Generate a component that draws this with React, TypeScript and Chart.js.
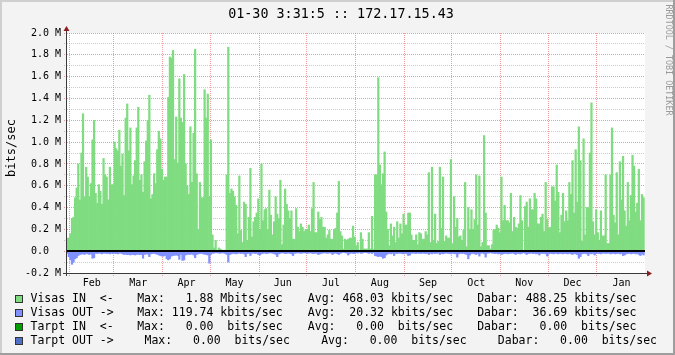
import React, { useEffect, useRef } from 'react';
import { Chart, registerables } from 'chart.js';

Chart.register(...registerables);

const W = 675;
const H = 355;
const MONO = '"DejaVu Sans Mono", monospace';

// Day index 0 = Feb 1; first daily sample is Jan 30 (day -2)
const FIRST_DAY = -2;
const X_MIN = -1.65;
const X_MAX = 364.4;

const monthLabels = ['Feb', 'Mar', 'Apr', 'May', 'Jun', 'Jul', 'Aug', 'Sep', 'Oct', 'Nov', 'Dec', 'Jan'];
const monthStarts = [0, 28, 59, 89, 120, 150, 181, 212, 242, 273, 303, 334, 365];

const yTickValues = [-0.2, -0.1, 0, 0.1, 0.2, 0.3, 0.4, 0.5, 0.6, 0.7, 0.8, 0.9, 1.0, 1.1, 1.2, 1.3, 1.4, 1.5, 1.6, 1.7, 1.8, 1.9, 2.0];

// Visas IN, Mbits/sec, one value per day (Jan 30 .. Jan 30)
const visasIn = [
  // Jan 30-31, Feb
  0.12, 0.12, 0.16, 0.30, 0.31, 0.49, 0.58, 0.80, 0.47, 0.90, 1.26, 0.50, 0.77, 0.68, 0.50, 0.62, 1.02, 1.20, 0.53, 0.44, 0.61, 0.55, 0.43, 0.85, 0.70, 0.68, 0.47, 0.77, 0.61, 0.61,
  // Mar
  1.00, 0.94, 0.92, 1.11, 0.78, 0.89, 0.51, 1.22, 1.35, 0.92, 1.13, 0.61, 0.69, 0.83, 1.13, 1.32, 0.65, 0.70, 0.54, 0.82, 1.01, 1.20, 1.43, 0.48, 0.52, 0.71, 0.62, 0.93, 1.10, 1.03, 0.75,
  // Apr
  0.65, 0.68, 0.68, 1.41, 1.78, 1.77, 1.84, 0.84, 1.23, 0.81, 1.58, 1.22, 1.18, 1.62, 0.80, 0.60, 0.52, 1.14, 0.63, 1.08, 1.85, 0.71, 0.20, 0.63, 0.49, 0.49, 1.48, 1.22, 1.44, 0.50,
  // May
  1.02, 0.15, 0.03, 0.10, 0.00, 0.03, 0.02, 0.01, 0.00, 0.01, 0.70, 1.87, 0.53, 0.57, 0.55, 0.50, 0.42, 0.16, 0.69, 0.19, 0.08, 0.45, 0.43, 0.10, 0.31, 0.76, 0.13, 0.27, 0.31, 0.35, 0.48,
  // Jun
  0.20, 0.80, 0.28, 0.38, 0.39, 0.20, 0.56, 0.33, 0.15, 0.27, 0.50, 0.34, 0.30, 0.65, 0.06, 0.24, 0.57, 0.43, 0.37, 0.30, 0.37, 0.11, 0.11, 0.39, 0.22, 0.18, 0.25, 0.22, 0.18, 0.20,
  // Jul
  0.20, 0.24, 0.18, 0.39, 0.63, 0.17, 0.17, 0.36, 0.29, 0.31, 0.22, 0.22, 0.12, 0.15, 0.19, 0.11, 0.11, 0.20, 0.21, 0.35, 0.64, 0.18, 0.14, 0.02, 0.11, 0.10, 0.11, 0.12, 0.12, 0.23, 0.13,
  // Aug
  0.05, 0.08, 0.01, 0.17, 0.11, 0.02, 0.02, 0.02, 0.17, 0.02, 0.32, 0.02, 0.70, 0.70, 1.59, 0.79, 0.61, 0.71, 0.91, 0.36, 0.20, 0.05, 0.25, 0.14, 0.22, 0.08, 0.27, 0.12, 0.25, 0.16, 0.34,
  // Sep
  0.24, 0.24, 0.35, 0.35, 0.15, 0.10, 0.10, 0.15, 0.06, 0.17, 0.16, 0.11, 0.11, 0.18, 0.15, 0.72, 0.08, 0.77, 0.10, 0.34, 0.07, 0.09, 0.77, 0.21, 0.68, 0.09, 0.14, 0.12, 0.12, 0.84,
  // Oct
  0.07, 0.50, 0.22, 0.30, 0.13, 0.14, 0.10, 0.19, 0.63, 0.04, 0.40, 0.20, 0.38, 0.20, 0.29, 0.70, 0.24, 0.69, 0.04, 0.08, 1.06, 0.35, 0.05, 0.05, 0.02, 0.06, 0.19, 0.20, 0.24, 0.21, 0.17,
  // Nov
  0.68, 0.28, 0.42, 0.28, 0.28, 0.26, 0.53, 0.18, 0.31, 0.22, 0.21, 0.25, 0.51, 0.28, 0.00, 0.41, 0.45, 0.22, 0.48, 0.38, 0.38, 0.53, 0.48, 0.25, 0.25, 0.31, 0.34, 0.18, 0.63, 0.29,
  // Dec
  0.21, 0.22, 0.59, 0.59, 0.46, 0.79, 0.54, 0.17, 0.33, 0.53, 0.27, 0.37, 0.28, 0.63, 0.52, 0.83, 0.35, 0.93, 0.45, 1.14, 0.83, 0.09, 1.03, 0.15, 0.40, 0.40, 0.90, 1.36, 0.27, 0.15, 0.38,
  // Jan
  0.17, 0.10, 0.37, 0.14, 0.14, 0.70, 0.07, 0.07, 0.70, 1.13, 0.33, 0.26, 0.72, 0.15, 0.82, 0.47, 0.87, 0.37, 0.23, 0.63, 0.28, 0.51, 0.88, 0.78, 0.36, 0.44, 0.75, 0.28, 0.52, 0.49,
];

// Visas OUT, Mbits/sec (drawn negative), one value per day
const visasOut = [
  // Jan 30-31, Feb
  -0.02, -0.05, -0.08, -0.12, -0.10, -0.07, -0.06, -0.04, -0.03, -0.028, -0.025, -0.03, -0.022, -0.025, -0.03, -0.025, -0.065, -0.06, -0.02, -0.022, -0.018, -0.02, -0.025, -0.02, -0.018, -0.022, -0.02, -0.025, -0.02, -0.022,
  // Mar
  -0.02, -0.022, -0.025, -0.02, -0.018, -0.025, -0.03, -0.028, -0.032, -0.03, -0.035, -0.03, -0.032, -0.035, -0.03, -0.028, -0.032, -0.03, -0.065, -0.03, -0.025, -0.028, -0.05, -0.025, -0.022, -0.02, -0.025, -0.028, -0.035, -0.04, -0.045,
  // Apr
  -0.045, -0.04, -0.07, -0.08, -0.07, -0.045, -0.04, -0.038, -0.035, -0.04, -0.075, -0.03, -0.085, -0.08, -0.035, -0.03, -0.028, -0.03, -0.025, -0.035, -0.06, -0.03, -0.025, -0.022, -0.02, -0.025, -0.028, -0.03, -0.035, -0.11,
  // May
  -0.03, -0.02, -0.018, -0.015, -0.015, -0.018, -0.02, -0.015, -0.018, -0.02, -0.03, -0.10, -0.03, -0.025, -0.02, -0.022, -0.025, -0.02, -0.018, -0.022, -0.02, -0.025, -0.05, -0.022, -0.02, -0.04, -0.02, -0.018, -0.022, -0.02, -0.03,
  // Jun
  -0.035, -0.025, -0.02, -0.018, -0.022, -0.02, -0.018, -0.015, -0.02, -0.022, -0.03, -0.05, -0.025, -0.02, -0.015, -0.018, -0.022, -0.02, -0.018, -0.02, -0.025, -0.04, -0.02, -0.018, -0.015, -0.018, -0.02, -0.018, -0.015, -0.018,
  // Jul
  -0.02, -0.018, -0.015, -0.02, -0.022, -0.018, -0.02, -0.03, -0.025, -0.02, -0.018, -0.015, -0.018, -0.02, -0.015, -0.018, -0.03, -0.02, -0.018, -0.022, -0.03, -0.02, -0.015, -0.012, -0.015, -0.018, -0.035, -0.02, -0.018, -0.02, -0.022,
  // Aug
  -0.015, -0.018, -0.012, -0.02, -0.018, -0.012, -0.012, -0.015, -0.02, -0.015, -0.022, -0.015, -0.04, -0.045, -0.05, -0.045, -0.05, -0.065, -0.06, -0.035, -0.025, -0.02, -0.025, -0.02, -0.04, -0.02, -0.022, -0.018, -0.02, -0.022, -0.025,
  // Sep
  -0.02, -0.025, -0.04, -0.035, -0.02, -0.018, -0.02, -0.022, -0.018, -0.02, -0.022, -0.018, -0.02, -0.022, -0.02, -0.03, -0.02, -0.025, -0.018, -0.022, -0.02, -0.018, -0.03, -0.022, -0.025, -0.02, -0.018, -0.02, -0.022, -0.025,
  // Oct
  -0.02, -0.022, -0.025, -0.055, -0.025, -0.02, -0.022, -0.02, -0.025, -0.03, -0.07, -0.035, -0.022, -0.02, -0.025, -0.03, -0.022, -0.045, -0.02, -0.018, -0.025, -0.055, -0.02, -0.018, -0.015, -0.018, -0.02, -0.022, -0.02, -0.025, -0.022,
  // Nov
  -0.03, -0.025, -0.022, -0.02, -0.025, -0.022, -0.02, -0.018, -0.022, -0.03, -0.02, -0.022, -0.025, -0.02, -0.015, -0.02, -0.03, -0.022, -0.02, -0.018, -0.022, -0.02, -0.025, -0.022, -0.035, -0.02, -0.022, -0.02, -0.025, -0.045,
  // Dec
  -0.025, -0.02, -0.022, -0.025, -0.02, -0.022, -0.025, -0.02, -0.022, -0.025, -0.02, -0.022, -0.025, -0.02, -0.025, -0.03, -0.022, -0.025, -0.03, -0.065, -0.05, -0.025, -0.022, -0.02, -0.025, -0.04, -0.022, -0.025, -0.02, -0.035, -0.022,
  // Jan
  -0.02, -0.022, -0.025, -0.02, -0.018, -0.022, -0.02, -0.018, -0.025, -0.022, -0.02, -0.025, -0.022, -0.02, -0.025, -0.022, -0.04, -0.035, -0.025, -0.022, -0.02, -0.025, -0.022, -0.02, -0.025, -0.022, -0.03, -0.04, -0.025, -0.035,
];

const titleText = '01-30 3:31:5 :: 172.17.15.43';
const unitText = 'bits/sec';
const creditText = 'RRDTOOL / TOBI OETIKER';

const legendNames = ['Visas IN  <-', 'Visas OUT ->', 'Tarpt IN  <-', 'Tarpt OUT ->'];
const legendColors = ['#80DC80', '#8090FF', '#00A000', '#5070C8'];
const legendMax = ['Max:   1.88 Mbits/sec', 'Max: 119.74 kbits/sec', 'Max:   0.00  bits/sec', 'Max:   0.00  bits/sec'];
const legendAvg = ['Avg: 468.03 kbits/sec', 'Avg:  20.32 kbits/sec', 'Avg:   0.00  bits/sec', 'Avg:   0.00  bits/sec'];
const legendNow = ['Dabar: 488.25 kbits/sec', 'Dabar:  36.69 kbits/sec', 'Dabar:   0.00  bits/sec', 'Dabar:   0.00  bits/sec'];

// legend layout (pixels)
const LEG_ROW_Y = [299, 313, 327, 341];
const LEG_MAX_X = [137.2, 137.2, 137.2, 144.5];
const LEG_AVG_X = [307.8, 307.8, 307.8, 321.2];
const LEG_NOW_X = [477.2, 477.2, 477.2, 497.8];

const RED = 'rgba(222, 80, 80, 0.55)';
const GRAY = 'rgba(140, 140, 140, 0.45)';

const rrdPlugin = {
  id: 'rrdDecor',
  beforeDraw(chart: any) {
    const { ctx, chartArea: a } = chart;
    ctx.save();
    ctx.fillStyle = '#F3F3F3';
    ctx.fillRect(0, 0, W, H);
    ctx.fillStyle = '#CFCFCF';
    ctx.fillRect(0, 0, W, 2);
    ctx.fillRect(0, 0, 2, H);
    ctx.fillStyle = '#9E9E9E';
    ctx.fillRect(0, H - 2, W, 2);
    ctx.fillRect(W - 2, 0, 2, H);
    ctx.fillStyle = '#FFFFFF';
    ctx.fillRect(a.left, a.top, a.right - a.left, a.bottom - a.top);
    ctx.restore();
  },
  afterDraw(chart: any) {
    const { ctx, chartArea: a, scales } = chart;
    ctx.save();
    // zero rule
    const y0 = Math.round(scales.y.getPixelForValue(0));
    ctx.fillStyle = '#000000';
    ctx.fillRect(a.left, y0 - 1, a.right - a.left, 2);
    // axes
    ctx.strokeStyle = '#3A3A3A';
    ctx.lineWidth = 1;
    ctx.beginPath();
    ctx.moveTo(a.left - 0.5, a.bottom + 3);
    ctx.lineTo(a.left - 0.5, a.top - 3);
    ctx.stroke();
    ctx.beginPath();
    ctx.moveTo(a.left - 4, a.bottom + 0.5);
    ctx.lineTo(a.right + 3, a.bottom + 0.5);
    ctx.stroke();
    // arrows
    ctx.fillStyle = '#8E1B1B';
    ctx.beginPath();
    ctx.moveTo(a.left - 0.5, a.top - 7);
    ctx.lineTo(a.left - 3.5, a.top - 2);
    ctx.lineTo(a.left + 2.5, a.top - 2);
    ctx.closePath();
    ctx.fill();
    ctx.beginPath();
    ctx.moveTo(a.right + 7, a.bottom + 0.5);
    ctx.lineTo(a.right + 2, a.bottom - 2.5);
    ctx.lineTo(a.right + 2, a.bottom + 3.5);
    ctx.closePath();
    ctx.fill();

    // title
    ctx.fillStyle = '#000000';
    ctx.textBaseline = 'middle';
    ctx.textAlign = 'center';
    ctx.font = `13.4px ${MONO}`;
    ctx.fillText(titleText, 341, 14.5);

    // unit label
    ctx.save();
    ctx.translate(11.5, 148);
    ctx.rotate(-Math.PI / 2);
    ctx.font = `12px ${MONO}`;
    ctx.fillText(unitText, 0, 0);
    ctx.restore();

    // credit
    ctx.save();
    ctx.translate(668, 60);
    ctx.rotate(Math.PI / 2);
    ctx.font = `8.4px ${MONO}`;
    ctx.fillStyle = '#9A9A9A';
    ctx.fillText(creditText, 0, 0);
    ctx.restore();

    // legend
    ctx.textAlign = 'left';
    ctx.font = `11.5px ${MONO}`;
    for (let i = 0; i < legendNames.length; i++) {
      const y = LEG_ROW_Y[i];
      ctx.fillStyle = legendColors[i];
      ctx.fillRect(15, y - 4, 8, 8);
      ctx.strokeStyle = '#333333';
      ctx.lineWidth = 1;
      ctx.strokeRect(15.5, y - 3.5, 7, 7);
      ctx.fillStyle = '#000000';
      ctx.fillText(legendNames[i], 30.5, y);
      ctx.fillText(legendMax[i], LEG_MAX_X[i], y);
      ctx.fillText(legendAvg[i], LEG_AVG_X[i], y);
      ctx.fillText(legendNow[i], LEG_NOW_X[i], y);
    }
    ctx.restore();
  },
};

export default function App() {
  const ref = useRef<HTMLCanvasElement>(null);

  useEffect(() => {
    document.body.style.margin = '0';
    const canvas = ref.current;
    if (!canvas) return;

    const monthMids = monthStarts.slice(0, -1).map((s, i) => (s + monthStarts[i + 1]) / 2);
    const xTicks = [...monthStarts, ...monthMids]
      .filter((v) => v >= X_MIN && v <= X_MAX)
      .sort((p, q) => p - q);
    const isStart = (v: number) => monthStarts.some((s) => Math.abs(s - v) < 1e-6);

    const chart = new Chart(canvas, {
      type: 'bar',
      data: {
        datasets: [
          {
            label: 'Visas IN',
            data: visasIn.map((v, i) => ({ x: FIRST_DAY + i + 0.5, y: v })),
            backgroundColor: legendColors[0],
          },
          {
            label: 'Visas OUT',
            data: visasOut.map((v, i) => ({ x: FIRST_DAY + i + 0.5, y: v })),
            backgroundColor: legendColors[1],
          },
        ],
      },
      options: {
        responsive: false,
        animation: false,
        devicePixelRatio: 1,
        events: [],
        layout: { padding: { left: 0, right: 30, top: 33, bottom: 52 } },
        plugins: {
          legend: { display: false },
          tooltip: { enabled: false },
          title: { display: false },
        },
        datasets: {
          bar: {
            grouped: false,
            barPercentage: 1,
            categoryPercentage: 1,
            borderWidth: 0,
          },
        },
        scales: {
          x: {
            type: 'linear',
            min: X_MIN,
            max: X_MAX,
            offset: false,
            z: 1,
            afterBuildTicks: (scale: any) => {
              scale.ticks = xTicks.map((v) => ({ value: v }));
            },
            afterFit: (scale: any) => {
              scale.height = 30;
            },
            grid: {
              offset: false,
              lineWidth: 1,
              drawTicks: true,
              tickLength: 3,
              color: (c: any) => (c.tick && isStart(c.tick.value) ? RED : 'rgba(0,0,0,0)'),
              tickBorderDash: [1, 1],
            },
            border: { display: false, dash: [1, 1] },
            ticks: {
              autoSkip: false,
              maxRotation: 0,
              minRotation: 0,
              padding: 1,
              color: '#000000',
              font: { family: MONO, size: 10 },
              callback: (value: any) => {
                const i = monthMids.findIndex((m) => Math.abs(m - Number(value)) < 1e-6);
                return i >= 0 ? monthLabels[i] : '';
              },
            },
          },
          y: {
            type: 'linear',
            min: -0.2,
            max: 2.0,
            z: 1,
            afterBuildTicks: (scale: any) => {
              scale.ticks = yTickValues.map((v) => ({ value: v }));
            },
            afterFit: (scale: any) => {
              scale.width = 67;
            },
            grid: {
              lineWidth: 1,
              drawTicks: true,
              tickLength: 3,
              color: (c: any) => {
                if (!c.tick) return GRAY;
                const k = Math.round(c.tick.value * 10);
                return k % 2 === 0 ? RED : GRAY;
              },
              tickBorderDash: [1, 1],
            },
            border: { display: false, dash: [1, 1] },
            ticks: {
              autoSkip: false,
              padding: 3,
              color: '#000000',
              font: { family: MONO, size: 10 },
              callback: (value: any) => {
                const k = Math.round(Number(value) * 10);
                if (k % 2 !== 0) return '';
                if (k === 0) return '0.0  ';
                return (k / 10).toFixed(1) + ' M';
              },
            },
          },
        },
      } as any,
      plugins: [rrdPlugin],
    });

    return () => chart.destroy();
  }, []);

  return <canvas ref={ref} width={W} height={H} style={{ display: 'block', width: W, height: H }} />;
}
